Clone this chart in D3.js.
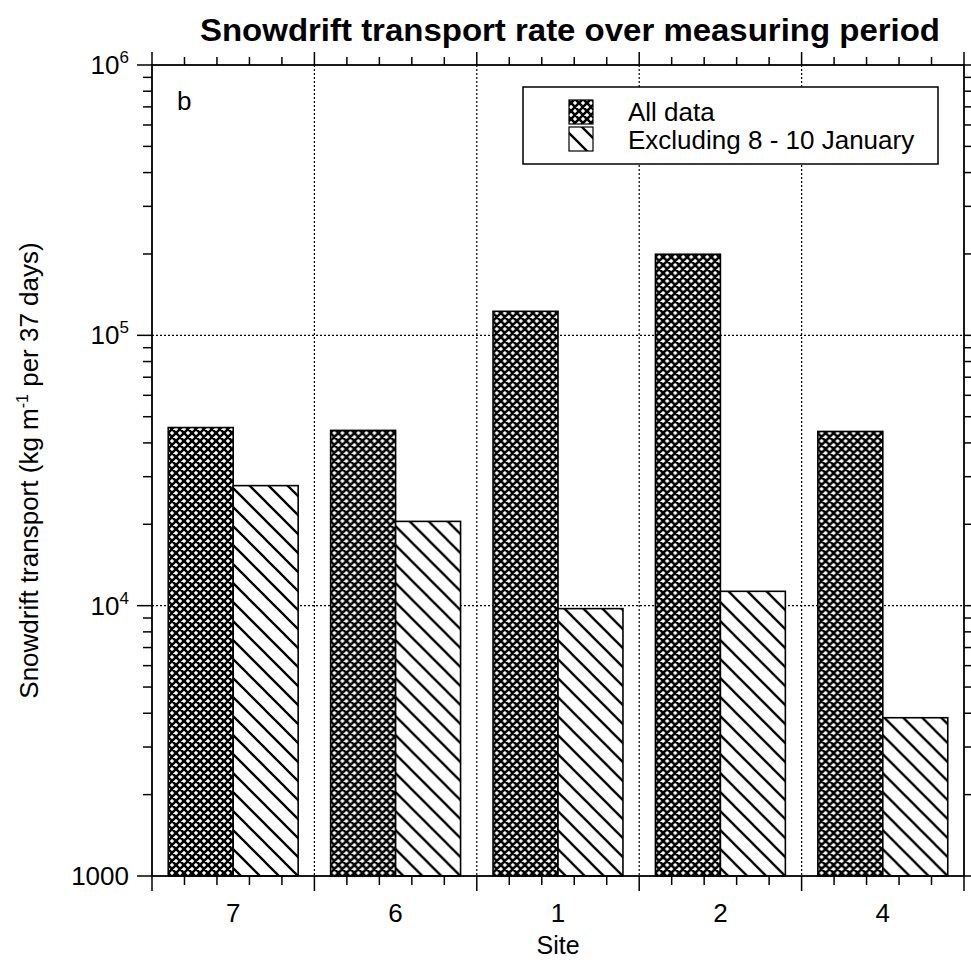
<!DOCTYPE html>
<html>
<head>
<meta charset="utf-8">
<script src="https://cdn.jsdelivr.net/npm/d3@7"></script>
<style>
  body { margin: 0; background: #fff; }
  text { font-family: "Liberation Sans", Arial, sans-serif; fill: #000; }
</style>
</head>
<body>
<div id="chart"></div>
<script>
const sites = ["7", "6", "1", "2", "4"];
const seriesNames = ["All data", "Excluding 8 - 10 January"];
const allData = [45600, 44500, 122700, 199500, 44100];
const excluding = [27800, 20500, 9750, 11300, 3850];
const yTickValues = [1000, 1e4, 1e5, 1e6];

const data = sites.map((s, i) => ({ site: s, values: [allData[i], excluding[i]] }));

const width = 971, height = 976;
const margin = { top: 65, right: 7, bottom: 100, left: 152 };
const w = width - margin.left - margin.right;   // 812
const h = height - margin.top - margin.bottom;  // 811

const svg = d3.select("#chart").append("svg")
    .attr("width", width)
    .attr("height", height);

// patterns
const defs = svg.append("defs");
const cross = defs.append("pattern")
    .attr("id", "cross")
    .attr("patternUnits", "userSpaceOnUse")
    .attr("width", 8).attr("height", 8);
cross.append("rect").attr("width", 8).attr("height", 8).attr("fill", "#fff");
cross.append("path").attr("d", "M-2,2 L2,-2 M0,8 L8,0 M6,10 L10,6 M-2,6 L2,10 M0,0 L8,8 M6,-2 L10,2")
    .attr("stroke", "#000").attr("stroke-width", 2.6);

const diag = defs.append("pattern")
    .attr("id", "diag")
    .attr("patternUnits", "userSpaceOnUse")
    .attr("width", 19).attr("height", 19);
diag.append("rect").attr("width", 19).attr("height", 19).attr("fill", "#fff");
diag.append("path").attr("d", "M-5,-5 L24,24 M-5,14 L5,24 M14,-5 L24,5")
    .attr("stroke", "#000").attr("stroke-width", 2.3);

const fills = ["url(#cross)", "url(#diag)"];

const g = svg.append("g").attr("transform", `translate(${margin.left},${margin.top})`);

// Scales
const x = d3.scaleBand().domain(sites).range([0, w]).padding(0);
const x1 = d3.scaleBand().domain([0, 1]).range([0, x.bandwidth()]).paddingInner(0).paddingOuter(0.25);
const xs = d3.scaleLinear().domain([0, sites.length]).range([0, w]);
const y = d3.scaleLog().domain([1000, 1e6]).range([h, 0]);

// grid
g.append("g").selectAll("line")
    .data(d3.range(1, sites.length))
    .join("line")
    .attr("x1", d => xs(d)).attr("x2", d => xs(d))
    .attr("y1", 0).attr("y2", h)
    .attr("stroke", "#000").attr("stroke-width", 1.2).attr("stroke-dasharray", "2,2");
g.append("g").selectAll("line")
    .data([1e4, 1e5])
    .join("line")
    .attr("x1", 0).attr("x2", w)
    .attr("y1", d => y(d)).attr("y2", d => y(d))
    .attr("stroke", "#000").attr("stroke-width", 1.2).attr("stroke-dasharray", "2,2");

// bars
const groups = g.selectAll(".site")
    .data(data)
    .join("g")
    .attr("class", "site")
    .attr("transform", d => `translate(${x(d.site)},0)`);

groups.selectAll("rect")
    .data(d => d.values.map((v, i) => ({ v, i })))
    .join("rect")
    .attr("x", d => x1(d.i))
    .attr("width", x1.bandwidth())
    .attr("y", d => y(d.v))
    .attr("height", d => h - y(d.v))
    .attr("fill", d => fills[d.i])
    .attr("stroke", "#000")
    .attr("stroke-width", 1.6);

// frame
g.append("rect").attr("width", w).attr("height", h)
    .attr("fill", "none").attr("stroke", "#000").attr("stroke-width", 1.8);

// x ticks (top & bottom)
const xTicks = d3.range(0, sites.length * 5 + 1).map(i => ({ pos: i / 5, major: i % 5 === 0 }));
const xt = g.append("g").attr("stroke", "#000").attr("stroke-width", 1.5);
xt.selectAll(".b").data(xTicks).join("line").attr("class", "b")
    .attr("x1", d => xs(d.pos)).attr("x2", d => xs(d.pos))
    .attr("y1", h).attr("y2", d => h + (d.major ? 15 : 9));
xt.selectAll(".t").data(xTicks).join("line").attr("class", "t")
    .attr("x1", d => xs(d.pos)).attr("x2", d => xs(d.pos))
    .attr("y1", 0).attr("y2", d => d.major ? -13 : -8);

// y ticks (left & right)
const yTicks = y.ticks().map(v => ({ v, major: yTickValues.includes(v) }));
const yt = g.append("g").attr("stroke", "#000").attr("stroke-width", 1.5);
yt.selectAll(".l").data(yTicks).join("line").attr("class", "l")
    .attr("y1", d => y(d.v)).attr("y2", d => y(d.v))
    .attr("x1", 0).attr("x2", d => d.major ? -15 : -9);
yt.selectAll(".r").data(yTicks).join("line").attr("class", "r")
    .attr("y1", d => y(d.v)).attr("y2", d => y(d.v))
    .attr("x1", w).attr("x2", d => w + (d.major ? 15 : 8));

// y tick labels
const yl = g.append("g").selectAll("text")
    .data(yTickValues)
    .join("text")
    .attr("x", -23)
    .attr("y", d => y(d) + 9)
    .attr("text-anchor", "end")
    .style("font-size", "26px");
yl.each(function(d) {
    const t = d3.select(this);
    if (d === 1000) { t.text("1000"); return; }
    t.append("tspan").text("10");
    t.append("tspan").attr("dy", -11).style("font-size", "17px").text(Math.round(Math.log10(d)));
});

// x tick labels
g.append("g").selectAll("text")
    .data(sites)
    .join("text")
    .attr("x", d => x(d) + x.bandwidth() / 2)
    .attr("y", h + 46)
    .attr("text-anchor", "middle")
    .style("font-size", "26px")
    .text(d => d);

// axis titles
g.append("text")
    .attr("x", w / 2)
    .attr("y", h + 78)
    .attr("text-anchor", "middle")
    .style("font-size", "25px")
    .text("Site");

const ylab = svg.append("text")
    .attr("transform", `translate(38,${margin.top + h / 2}) rotate(-90)`)
    .attr("text-anchor", "middle")
    .style("font-size", "26px");
ylab.append("tspan").text("Snowdrift transport (kg m");
ylab.append("tspan").attr("dy", -10).style("font-size", "16px").text("-1");
ylab.append("tspan").attr("dy", 10).text(" per 37 days)");

// title
svg.append("text")
    .attr("x", 570)
    .attr("y", 41)
    .attr("text-anchor", "middle")
    .attr("textLength", 740)
    .attr("lengthAdjust", "spacingAndGlyphs")
    .style("font-size", "31px")
    .style("font-weight", "bold")
    .text("Snowdrift transport rate over measuring period");

// panel letter
g.append("text").attr("x", 25).attr("y", 45).style("font-size", "26px").text("b");

// legend
const lg = svg.append("g").attr("transform", "translate(523,87)");
lg.append("rect").attr("width", 415).attr("height", 77)
    .attr("fill", "#fff").attr("stroke", "#000").attr("stroke-width", 1.5);
seriesNames.forEach((name, i) => {
    lg.append("rect")
        .attr("x", 46).attr("y", 13 + i * 27)
        .attr("width", 24).attr("height", 24)
        .attr("fill", fills[i]).attr("stroke", "#000").attr("stroke-width", 1.2);
    lg.append("text")
        .attr("x", 105).attr("y", 34 + i * 28)
        .style("font-size", "26px")
        .text(name);
});
</script>
</body>
</html>
